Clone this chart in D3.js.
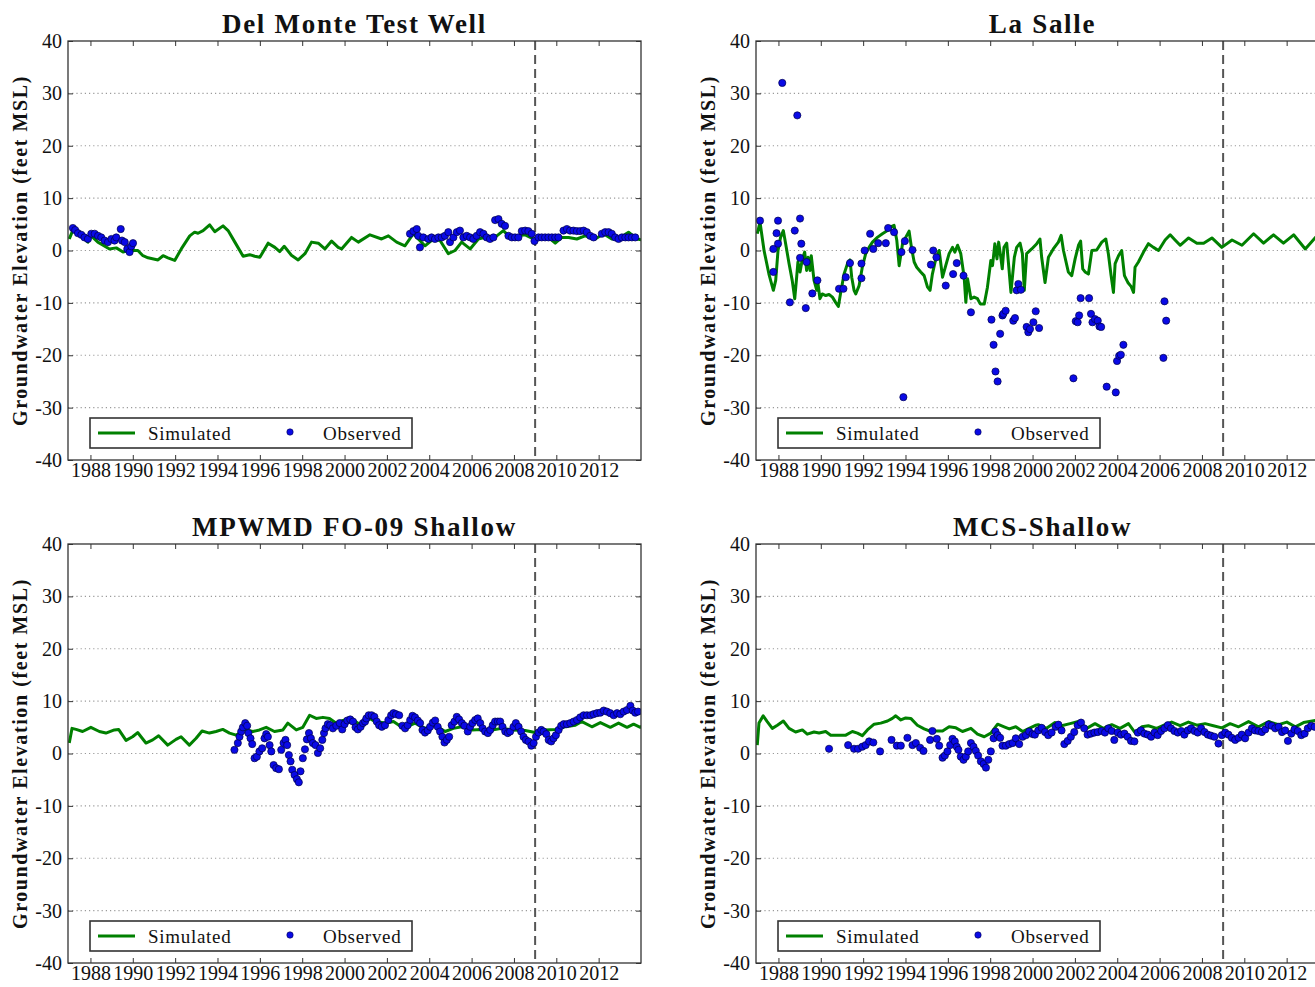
<!DOCTYPE html>
<html>
<head>
<meta charset="utf-8">
<script src="https://cdn.jsdelivr.net/npm/d3@7"></script>
<style>
  html, body { margin: 0; padding: 0; background: #fff; }
  svg { display: block; }
  text { font-family: "Liberation Serif", "Times New Roman", serif; fill: #111; }
</style>
</head>
<body>
<svg id="chart" width="1315" height="987"></svg>
<script>
// ---------------- DATA ----------------
const panelTitles = ["Del Monte Test Well", "La Salle", "MPWMD FO-09 Shallow", "MCS-Shallow"];
const xTickYears = [1988, 1990, 1992, 1994, 1996, 1998, 2000, 2002, 2004, 2006, 2008, 2010, 2012];
const yTickValues = [-40, -30, -20, -10, 0, 10, 20, 30, 40];
const yGridValues = [-30, -20, -10, 0, 10, 20, 30];
const legendLabels = ["Simulated", "Observed"];
const yAxisLabel = "Groundwater Elevation (feet MSL)";
const dividerYear = 2009.0;

// Del Monte Test Well  [year, feet MSL]
const delMonteSim = [[1987.0,2.2],[1987.06,2.8],[1987.22,4.4],[1987.5,3.0],[1987.88,1.6],[1988.04,2.8],[1988.35,1.6],[1988.9,0.3],[1989.22,0.5],[1989.54,-0.3],[1989.77,0],[1990.24,0],[1990.48,-1.0],[1990.72,-1.4],[1991.19,-1.8],[1991.43,-1.0],[1991.66,-1.4],[1991.98,-1.9],[1992.29,0.3],[1992.69,2.8],[1992.92,3.5],[1993.08,3.3],[1993.32,3.8],[1993.63,4.9],[1993.87,3.6],[1994.26,4.7],[1994.5,3.8],[1994.82,1.6],[1995.21,-1.1],[1995.52,-0.8],[1995.76,-1.1],[1996.0,-1.3],[1996.39,1.4],[1996.71,0.6],[1996.94,-0.2],[1997.15,0.8],[1997.49,-0.9],[1997.81,-1.8],[1998.13,-0.6],[1998.44,1.6],[1998.76,1.4],[1999.07,0.3],[1999.39,1.8],[1999.7,0.6],[1999.86,0.3],[2000.33,2.5],[2000.65,1.6],[2001.2,3.0],[2001.75,2.2],[2002.07,2.8],[2002.46,1.6],[2002.85,0.9],[2003.25,3.2],[2003.48,2.2],[2003.8,0.9],[2004.19,2.2],[2004.51,1.9],[2004.9,-0.6],[2005.22,0],[2005.53,1.6],[2005.93,0.3],[2006.32,2.2],[2006.64,2.5],[2006.87,1.9],[2007.19,2.8],[2007.5,3.8],[2007.82,2.5],[2008.21,2.8],[2008.53,3.0],[2008.92,2.2],[2009.31,2.5],[2009.63,2.5],[2009.95,1.4],[2010.26,2.5],[2010.58,2.5],[2010.97,2.2],[2011.36,2.8],[2011.84,2.2],[2012.23,3.2],[2012.62,2.2],[2013.02,2.5],[2013.41,3.5],[2013.81,2.2],[2014.1,2.0]];
const delMonteObs = [[1987.17,4.3],[1987.28,3.9],[1987.41,3.3],[1987.57,3.0],[1987.72,2.5],[1987.88,2.2],[1988.04,3.2],[1988.2,3.2],[1988.36,2.8],[1988.51,2.5],[1988.67,1.9],[1988.83,1.6],[1988.99,2.2],[1989.14,1.9],[1989.22,2.5],[1989.43,4.1],[1989.49,1.9],[1989.62,1.6],[1989.74,0.3],[1989.85,-0.3],[1989.93,0.8],[1990.01,1.4],
[2003.09,3.2],[2003.25,3.7],[2003.41,4.1],[2003.48,2.8],[2003.56,0.6],[2003.72,2.5],[2003.96,2.2],[2004.11,2.5],[2004.27,2.2],[2004.43,2.5],[2004.59,2.5],[2004.74,2.8],[2004.9,3.5],[2004.98,1.6],[2005.14,2.5],[2005.3,3.5],[2005.45,3.8],[2005.61,2.5],[2005.77,2.8],[2005.93,2.5],[2006.08,2.2],[2006.24,2.8],[2006.4,3.5],[2006.56,3.2],[2006.71,2.5],[2006.87,2.2],[2007.03,2.5],[2007.11,5.8],[2007.27,6.0],[2007.42,5.1],[2007.58,4.7],[2007.74,2.8],[2007.9,2.5],[2008.05,2.5],[2008.21,2.5],[2008.37,3.7],[2008.53,3.8],[2008.68,3.7],[2008.84,3.2],[2008.97,1.8],[2009.16,2.5],[2009.31,2.5],[2009.47,2.5],[2009.63,2.5],[2009.79,2.5],[2009.95,2.5],[2010.1,2.5],[2010.34,3.8],[2010.5,4.1],[2010.65,3.8],[2010.81,3.8],[2010.97,3.7],[2011.13,3.7],[2011.29,3.8],[2011.44,3.5],[2011.6,2.8],[2011.76,2.5],[2012.15,3.2],[2012.31,3.5],[2012.47,3.5],[2012.62,3.2],[2012.78,2.5],[2012.94,2.2],[2013.1,2.5],[2013.26,2.5],[2013.41,2.5],[2013.57,2.5],[2013.73,2.5]];

// La Salle
const laSalleSim = [[1987.0,3.2],[1987.13,5.4],[1987.32,0],[1987.55,-4.5],[1987.76,-7.6],[1987.87,-5.7],[1987.98,0],[1988.1,2.5],[1988.23,3.8],[1988.34,1.3],[1988.5,-2.5],[1988.65,-5.7],[1988.77,-9.2],[1988.86,-5.1],[1988.92,-2.2],[1989.02,-4.1],[1989.13,-1.6],[1989.24,-0.3],[1989.33,-3.8],[1989.4,-1.3],[1989.49,-3.8],[1989.55,-1.0],[1989.68,-5.7],[1989.81,-7.6],[1989.87,-6.4],[1989.96,-9.2],[1990.07,-8.3],[1990.23,-8.6],[1990.39,-8.4],[1990.55,-8.9],[1990.7,-9.9],[1990.83,-10.7],[1990.94,-8.0],[1991.1,-4.5],[1991.26,-2.5],[1991.38,-1.8],[1991.46,-5.1],[1991.57,-7.6],[1991.65,-8.3],[1991.81,-6.7],[1991.96,-3.2],[1992.12,-0.6],[1992.28,0.6],[1992.44,1.6],[1992.67,2.5],[1992.91,3.2],[1993.15,3.8],[1993.3,4.5],[1993.46,4.8],[1993.59,1.9],[1993.7,-2.9],[1993.86,1.3],[1994.01,2.5],[1994.17,3.7],[1994.28,0.6],[1994.41,-2.2],[1994.53,-3.2],[1994.72,-4.1],[1994.88,-4.8],[1995.04,-7.0],[1995.16,-7.6],[1995.27,-4.5],[1995.43,-1.6],[1995.59,0],[1995.75,-5.1],[1995.9,-2.9],[1996.06,-0.6],[1996.22,0.6],[1996.33,-0.3],[1996.46,1.0],[1996.61,-0.6],[1996.77,-5.1],[1996.85,-9.9],[1996.93,-5.4],[1997.09,-9.2],[1997.24,-8.9],[1997.4,-9.2],[1997.53,-10.2],[1997.72,-10.2],[1997.87,-7.0],[1998.03,-1.9],[1998.11,-2.9],[1998.22,1.3],[1998.32,-1.6],[1998.4,1.6],[1998.5,-1.3],[1998.57,-3.5],[1998.65,0.6],[1998.78,1.4],[1998.88,-3.2],[1998.98,-8.0],[1999.14,-1.3],[1999.25,0.6],[1999.41,1.4],[1999.52,-0.6],[1999.61,-7.6],[1999.72,-0.6],[1999.96,0.3],[2000.2,1.3],[2000.35,2.2],[2000.43,-1.3],[2000.59,-6.1],[2000.75,-1.3],[2000.98,0.3],[2001.22,1.6],[2001.35,2.9],[2001.46,0],[2001.69,-4.1],[2001.85,-4.8],[2002.01,-1.6],[2002.17,1.0],[2002.27,1.8],[2002.37,-3.5],[2002.48,-4.1],[2002.64,-4.5],[2002.8,0],[2003.03,0.1],[2003.27,1.6],[2003.46,2.2],[2003.58,-0.6],[2003.71,-4.8],[2003.82,-8.0],[2003.9,-2.5],[2004.06,-1.0],[2004.21,0],[2004.34,-4.8],[2004.5,-6.1],[2004.66,-6.9],[2004.77,-8.0],[2004.84,-3.2],[2005.0,-2.2],[2005.24,-0.3],[2005.47,1.3],[2005.71,0.6],[2005.95,0],[2006.26,2.0],[2006.5,3.0],[2006.73,2.0],[2006.97,1.0],[2007.37,2.4],[2007.76,1.4],[2008.08,1.4],[2008.47,2.4],[2008.94,0.6],[2009.42,2.0],[2009.89,1.0],[2010.44,3.2],[2010.91,1.4],[2011.38,3.0],[2011.85,1.4],[2012.33,3.0],[2012.88,0.3],[2013.36,2.5],[2013.7,3.2],[2014.1,1.8]];
const laSalleObs = [[1987.13,5.7],[1987.76,0.3],[1987.76,-4.1],[1987.91,3.3],[1987.98,5.7],[1987.98,1.3],[1988.18,32.0],[1988.54,-9.9],[1988.77,3.8],[1988.89,25.8],[1989.02,6.1],[1989.08,1.3],[1989.02,-1.4],[1989.29,-11.0],[1989.33,-2.2],[1989.6,-8.2],[1989.84,-5.7],[1990.86,-7.3],[1991.07,-7.3],[1991.18,-5.1],[1991.38,-2.4],[1991.92,-5.3],[1991.92,-2.5],[1992.07,0],[1992.33,3.2],[1992.48,0.3],[1992.71,1.4],[1993.07,1.4],[1993.18,4.3],[1993.46,3.5],[1993.81,-0.3],[1993.9,-28.0],[1993.97,1.8],[1994.33,0.1],[1995.2,-2.7],[1995.31,0],[1995.46,-1.3],[1995.9,-6.7],[1996.25,-4.5],[1996.42,-2.4],[1996.74,-4.8],[1997.09,-11.8],[1998.06,-13.2],[1998.16,-18.0],[1998.25,-23.1],[1998.35,-25.0],[1998.47,-15.9],[1998.58,-12.4],[1998.62,-12.1],[1998.73,-11.5],[1999.09,-13.4],[1999.17,-12.9],[1999.25,-7.6],[1999.33,-6.4],[1999.45,-7.5],[1999.72,-14.6],[1999.8,-15.6],[1999.88,-15.0],[2000.04,-13.7],[2000.15,-11.6],[2000.31,-14.8],[2001.93,-24.4],[2002.04,-13.5],[2002.13,-13.7],[2002.2,-12.4],[2002.27,-9.1],[2002.67,-9.1],[2002.76,-12.1],[2002.83,-13.7],[2002.95,-13.1],[2003.08,-13.4],[2003.16,-14.5],[2003.24,-14.6],[2003.5,-26.0],[2003.93,-27.1],[2003.99,-21.1],[2004.09,-20.1],[2004.17,-19.9],[2004.29,-18.0],[2006.18,-20.5],[2006.23,-9.7],[2006.31,-13.4]];

// MPWMD FO-09 Shallow
const fo09Sim = [[1987.0,2.0],[1987.13,4.8],[1987.32,4.6],[1987.63,4.2],[1988.02,5.0],[1988.42,4.2],[1988.73,3.9],[1989.13,4.5],[1989.33,4.6],[1989.68,2.5],[1989.99,3.2],[1990.23,4.0],[1990.62,2.0],[1990.94,2.6],[1991.22,3.4],[1991.65,1.6],[1992.04,2.7],[1992.28,3.2],[1992.67,1.6],[1992.99,2.9],[1993.27,4.3],[1993.62,3.9],[1993.93,4.2],[1994.25,4.6],[1994.57,3.9],[1994.88,3.5],[1995.27,4.6],[1995.67,4.2],[1995.98,4.5],[1996.3,5.0],[1996.69,4.2],[1997.09,4.5],[1997.32,5.8],[1997.72,4.5],[1998.03,5.0],[1998.35,7.3],[1998.66,6.7],[1998.98,6.9],[1999.29,6.7],[1999.61,5.8],[1999.92,6.3],[2000.32,6.7],[2000.63,5.8],[2000.87,5.4],[2001.18,6.7],[2001.44,6.1],[2002.0,5.8],[2002.31,6.1],[2002.78,4.8],[2003.33,5.8],[2003.8,4.8],[2004.28,5.4],[2004.75,4.2],[2005.14,4.8],[2005.54,5.1],[2006.01,4.5],[2006.48,4.6],[2006.96,4.5],[2007.43,4.8],[2007.9,4.5],[2008.53,4.4],[2009.0,4.0],[2009.48,4.5],[2009.95,4.6],[2010.42,5.1],[2010.9,5.4],[2011.21,6.1],[2011.68,5.1],[2012.08,5.9],[2012.55,5.0],[2012.94,5.8],[2013.34,5.0],[2013.65,5.6],[2013.97,5.0],[2014.1,5.4]];
const fo09Obs = [[1994.8,0.7],[1994.96,2.0],[1995.04,3.2],[1995.12,4.2],[1995.2,5.0],[1995.31,5.8],[1995.4,5.3],[1995.46,3.9],[1995.56,2.9],[1995.64,1.8],[1995.75,-0.9],[1995.86,-0.6],[1995.98,0.4],[1996.11,1.0],[1996.22,2.9],[1996.3,3.7],[1996.38,3.2],[1996.46,1.6],[1996.54,0.4],[1996.65,-2.2],[1996.77,-2.8],[1996.9,-3.0],[1997.01,0.7],[1997.12,2.0],[1997.21,2.6],[1997.29,1.6],[1997.37,-0.3],[1997.45,-1.5],[1997.53,-3.1],[1997.64,-4.1],[1997.75,-4.9],[1997.84,-5.5],[1997.92,-3.4],[1998.03,-0.9],[1998.13,0.8],[1998.22,2.7],[1998.32,3.9],[1998.41,2.9],[1998.5,2.0],[1998.63,1.6],[1998.74,0.1],[1998.85,1.0],[1998.95,2.6],[1999.03,3.9],[1999.1,4.8],[1999.21,5.6],[1999.32,5.4],[1999.45,4.8],[1999.61,5.3],[1999.77,5.8],[1999.89,4.6],[2000.0,5.6],[2000.13,6.3],[2000.27,6.5],[2000.4,6.1],[2000.52,5.0],[2000.63,4.6],[2000.76,5.1],[2000.87,5.8],[2000.97,6.1],[2001.03,6.7],[2001.14,7.3],[2001.28,7.3],[2001.41,7.0],[2001.52,6.1],[2001.63,5.4],[2001.76,5.1],[2001.91,5.4],[2002.07,6.4],[2002.2,7.3],[2002.31,7.7],[2002.43,7.5],[2002.58,7.3],[2002.73,5.3],[2002.86,4.8],[2002.98,5.4],[2003.1,6.4],[2003.21,7.2],[2003.33,6.9],[2003.46,6.3],[2003.57,5.8],[2003.68,4.5],[2003.8,4.0],[2003.93,4.4],[2004.04,5.1],[2004.17,5.9],[2004.28,6.3],[2004.4,5.1],[2004.51,4.2],[2004.62,3.2],[2004.72,2.1],[2004.83,2.6],[2004.94,3.2],[2005.06,5.4],[2005.19,6.1],[2005.3,7.0],[2005.41,6.5],[2005.54,5.8],[2005.66,5.3],[2005.82,4.2],[2005.93,5.1],[2006.04,5.8],[2006.17,6.4],[2006.29,6.7],[2006.41,5.8],[2006.52,4.8],[2006.64,4.2],[2006.77,3.9],[2006.88,4.5],[2007.0,5.4],[2007.11,6.1],[2007.24,6.1],[2007.35,6.1],[2007.46,5.1],[2007.59,4.2],[2007.71,3.9],[2007.82,4.2],[2007.98,5.1],[2008.09,5.8],[2008.22,5.1],[2008.34,4.2],[2008.45,3.2],[2008.56,2.6],[2008.69,2.3],[2008.82,1.5],[2008.93,2.0],[2009.04,3.2],[2009.16,4.0],[2009.29,4.5],[2009.4,4.2],[2009.53,3.7],[2009.64,2.6],[2009.76,2.3],[2009.87,2.9],[2009.98,3.5],[2010.11,4.5],[2010.23,5.3],[2010.35,5.6],[2010.5,5.6],[2010.66,5.8],[2010.82,6.1],[2010.98,6.4],[2011.13,6.9],[2011.29,7.3],[2011.45,7.3],[2011.61,7.3],[2011.76,7.5],[2011.92,7.7],[2012.08,7.8],[2012.24,8.2],[2012.39,8.0],[2012.55,7.7],[2012.71,7.3],[2012.87,7.7],[2013.02,7.5],[2013.18,8.0],[2013.34,8.3],[2013.5,9.1],[2013.61,8.2],[2013.73,7.8],[2013.86,8.0]];

// MCS-Shallow
const mcsSim = [[1987.0,1.6],[1987.08,5.8],[1987.28,7.2],[1987.47,6.1],[1987.71,4.8],[1987.95,5.4],[1988.23,6.2],[1988.5,4.8],[1988.81,4.1],[1989.13,4.5],[1989.36,3.7],[1989.68,4.1],[1989.92,3.9],[1990.23,4.2],[1990.47,3.5],[1990.94,3.5],[1991.18,3.5],[1991.49,4.2],[1991.73,3.9],[1991.96,3.4],[1992.2,4.5],[1992.52,5.6],[1992.83,5.8],[1993.15,6.2],[1993.38,6.7],[1993.54,7.2],[1993.78,6.4],[1994.01,6.8],[1994.25,6.7],[1994.56,5.4],[1994.88,4.7],[1995.2,4.2],[1995.43,4.3],[1995.75,4.3],[1996.06,5.1],[1996.38,4.9],[1996.69,4.2],[1997.09,4.8],[1997.4,3.7],[1997.72,3.2],[1998.03,3.9],[1998.35,5.6],[1998.66,5.1],[1998.9,4.7],[1999.21,5.1],[1999.53,4.2],[1999.84,4.8],[2000.16,5.4],[2000.27,5.5],[2000.66,4.8],[2001.06,5.9],[2001.37,5.3],[2001.77,5.7],[2002.16,6.1],[2002.56,4.8],[2002.95,5.7],[2003.34,4.8],[2003.74,5.5],[2004.13,4.8],[2004.53,5.7],[2004.84,4.0],[2005.16,5.1],[2005.47,5.3],[2005.86,4.8],[2006.26,5.5],[2006.57,6.0],[2006.97,5.3],[2007.36,6.0],[2007.76,5.4],[2008.15,5.7],[2008.54,5.3],[2008.94,4.9],[2009.33,5.7],[2009.73,5.1],[2010.2,6.1],[2010.67,5.1],[2011.15,6.1],[2011.62,5.5],[2012.01,6.0],[2012.41,5.1],[2012.8,5.9],[2013.35,6.3],[2013.7,5.2],[2014.1,6.0]];
const mcsObs = [[1990.39,0.9],[1991.29,1.6],[1991.57,0.9],[1991.76,0.9],[1991.96,1.3],[1992.12,1.6],[1992.28,2.3],[1992.48,2.1],[1992.8,0.4],[1993.34,2.6],[1993.59,1.5],[1993.78,1.5],[1994.09,3.0],[1994.33,1.6],[1994.49,2.0],[1994.69,1.1],[1994.85,0.5],[1995.16,2.6],[1995.27,4.3],[1995.48,2.8],[1995.59,1.5],[1995.75,-0.8],[1995.86,-0.4],[1995.98,0.4],[1996.11,1.6],[1996.22,2.8],[1996.33,2.3],[1996.42,1.3],[1996.5,0.7],[1996.61,-0.6],[1996.74,-1.2],[1996.85,-0.6],[1996.96,0.4],[1997.09,2.0],[1997.21,1.3],[1997.32,0.5],[1997.43,-0.4],[1997.56,-1.5],[1997.69,-2.0],[1997.8,-2.7],[1997.91,-1.2],[1998.03,0.4],[1998.16,2.9],[1998.25,4.2],[1998.35,3.5],[1998.47,3.0],[1998.58,1.5],[1998.74,1.5],[1998.9,1.8],[1999.06,2.0],[1999.21,2.9],[1999.37,1.8],[1999.53,3.2],[1999.69,3.5],[1999.84,4.2],[2000.0,3.7],[2000.11,3.6],[2000.27,4.4],[2000.43,4.9],[2000.59,4.1],[2000.74,3.5],[2000.9,4.0],[2001.09,5.1],[2001.22,5.5],[2001.37,4.4],[2001.5,1.8],[2001.66,2.4],[2001.81,3.2],[2001.97,4.1],[2002.13,5.4],[2002.29,5.9],[2002.44,4.8],[2002.6,3.6],[2002.76,3.8],[2002.92,4.0],[2003.08,4.1],[2003.26,4.3],[2003.42,4.0],[2003.58,4.8],[2003.74,4.3],[2003.86,2.6],[2004.02,4.0],[2004.18,3.6],[2004.34,3.8],[2004.49,3.2],[2004.65,2.4],[2004.81,2.3],[2004.97,4.0],[2005.12,4.4],[2005.28,3.8],[2005.44,3.6],[2005.6,3.2],[2005.76,4.0],[2005.91,3.5],[2006.07,4.3],[2006.23,4.8],[2006.39,5.4],[2006.54,4.8],[2006.7,4.3],[2006.86,4.0],[2007.02,4.3],[2007.17,3.6],[2007.33,4.4],[2007.49,4.8],[2007.65,4.3],[2007.8,4.0],[2007.96,4.8],[2008.12,4.1],[2008.28,3.6],[2008.43,3.4],[2008.59,3.2],[2008.78,1.9],[2008.94,3.5],[2009.1,4.0],[2009.25,3.6],[2009.41,3.0],[2009.57,2.6],[2009.73,3.0],[2009.88,3.6],[2010.04,2.9],[2010.2,4.0],[2010.36,4.8],[2010.51,4.4],[2010.67,4.3],[2010.83,4.1],[2010.99,4.6],[2011.15,5.5],[2011.3,5.3],[2011.46,4.8],[2011.62,5.1],[2011.78,4.1],[2011.93,4.4],[2012.06,2.4],[2012.22,3.8],[2012.37,4.6],[2012.53,4.3],[2012.69,3.5],[2012.85,3.8],[2013.0,4.8],[2013.16,5.3],[2013.32,5.1]];

// ---------------- DRAW ----------------
const svg = d3.select("#chart");
const plotW = 573, plotH = 419;
const xDomain = [1986.94, 2014.0];
const panels = [
  {title: panelTitles[0], sim: delMonteSim, obs: delMonteObs, x0: 68,  y0: 41},
  {title: panelTitles[1], sim: laSalleSim,  obs: laSalleObs,  x0: 756, y0: 41},
  {title: panelTitles[2], sim: fo09Sim,     obs: fo09Obs,     x0: 68,  y0: 544},
  {title: panelTitles[3], sim: mcsSim,      obs: mcsObs,      x0: 756, y0: 544}
];
const green = "#008000", blue = "#0a0ae6";
const plainNum = d => String(d);

panels.forEach((p, i) => {
  const x = d3.scaleLinear().domain(xDomain).range([p.x0, p.x0 + plotW]);
  const y = d3.scaleLinear().domain([-40, 40]).range([p.y0 + plotH, p.y0]);
  const g = svg.append("g");

  const clipId = "clip" + i;
  svg.append("clipPath").attr("id", clipId).append("rect")
    .attr("x", p.x0).attr("y", p.y0).attr("width", plotW).attr("height", plotH);

  g.append("rect").attr("x", p.x0).attr("y", p.y0).attr("width", plotW).attr("height", plotH)
    .attr("fill", "#fff");

  // gridlines
  g.append("g").selectAll("line").data(yGridValues).join("line")
    .attr("x1", p.x0).attr("x2", p.x0 + plotW)
    .attr("y1", d => y(d)).attr("y2", d => y(d))
    .attr("stroke", "#9a9a9a").attr("stroke-width", 1.1).attr("stroke-dasharray", "1.2,3");

  // divider dashed line
  g.append("line").attr("x1", x(dividerYear)).attr("x2", x(dividerYear))
    .attr("y1", p.y0).attr("y2", p.y0 + plotH)
    .attr("stroke", "#555").attr("stroke-width", 2).attr("stroke-dasharray", "9,5");

  const inner = g.append("g").attr("clip-path", `url(#${clipId})`);

  const line = d3.line().x(d => x(d[0])).y(d => y(d[1]));
  inner.append("path").datum(p.sim).attr("d", line)
    .attr("fill", "none").attr("stroke", green).attr("stroke-width", 3)
    .attr("stroke-linejoin", "round");

  inner.append("g").selectAll("circle").data(p.obs).join("circle")
    .attr("cx", d => x(d[0])).attr("cy", d => y(d[1])).attr("r", 3.6)
    .attr("fill", blue).attr("stroke", "#00004a").attr("stroke-width", 0.7);

  const xb = d3.axisBottom(x).tickValues(xTickYears).tickSizeInner(-5).tickSizeOuter(0)
    .tickPadding(3).tickFormat(plainNum);
  const xt = d3.axisTop(x).tickValues(xTickYears).tickSizeInner(-5).tickSizeOuter(0).tickFormat("");
  const yl = d3.axisLeft(y).tickValues(yTickValues).tickSizeInner(-5).tickSizeOuter(0)
    .tickPadding(6).tickFormat(plainNum);
  const yr = d3.axisRight(y).tickValues(yTickValues).tickSizeInner(-5).tickSizeOuter(0).tickFormat("");

  const styleAxis = sel => {
    sel.select(".domain").remove();
    sel.selectAll("line").attr("stroke", "#333").attr("stroke-width", 1);
    sel.selectAll("text").attr("font-family", "Liberation Serif, serif")
      .attr("font-size", 20).attr("fill", "#111");
  };
  g.append("g").attr("transform", `translate(0,${p.y0 + plotH})`).call(xb).call(styleAxis);
  g.append("g").attr("transform", `translate(0,${p.y0})`).call(xt).call(styleAxis);
  g.append("g").attr("transform", `translate(${p.x0},0)`).call(yl).call(styleAxis);
  g.append("g").attr("transform", `translate(${p.x0 + plotW},0)`).call(yr).call(styleAxis);

  g.append("rect").attr("x", p.x0).attr("y", p.y0).attr("width", plotW).attr("height", plotH)
    .attr("fill", "none").attr("stroke", "#333").attr("stroke-width", 1.3);

  // title
  g.append("text").attr("x", p.x0 + plotW / 2).attr("y", p.y0 - 8)
    .attr("text-anchor", "middle").attr("font-weight", "bold").attr("font-size", 27)
    .attr("letter-spacing", "1.7px").text(p.title);

  // y-axis label
  g.append("text")
    .attr("transform", `translate(${p.x0 - 48},${p.y0 + plotH / 2}) rotate(-90)`)
    .attr("text-anchor", "middle").attr("dy", "0.35em")
    .attr("font-weight", "bold").attr("font-size", 20).attr("letter-spacing", "1.6px")
    .text(yAxisLabel);

  // legend
  const lg = g.append("g");
  lg.append("rect").attr("x", p.x0 + 22).attr("y", p.y0 + 377).attr("width", 322).attr("height", 30)
    .attr("fill", "#fff").attr("stroke", "#333").attr("stroke-width", 1.6);
  lg.append("line").attr("x1", p.x0 + 30).attr("x2", p.x0 + 67)
    .attr("y1", p.y0 + 392).attr("y2", p.y0 + 392)
    .attr("stroke", green).attr("stroke-width", 3);
  lg.append("text").attr("x", p.x0 + 80).attr("y", p.y0 + 398.5)
    .attr("font-size", 19).attr("letter-spacing", "0.7px").text(legendLabels[0]);
  lg.append("circle").attr("cx", p.x0 + 222).attr("cy", p.y0 + 391).attr("r", 3.2)
    .attr("fill", blue).attr("stroke", "#00004a").attr("stroke-width", 0.6);
  lg.append("text").attr("x", p.x0 + 255).attr("y", p.y0 + 398.5)
    .attr("font-size", 19).attr("letter-spacing", "0.7px").text(legendLabels[1]);
});
</script>
</body>
</html>
